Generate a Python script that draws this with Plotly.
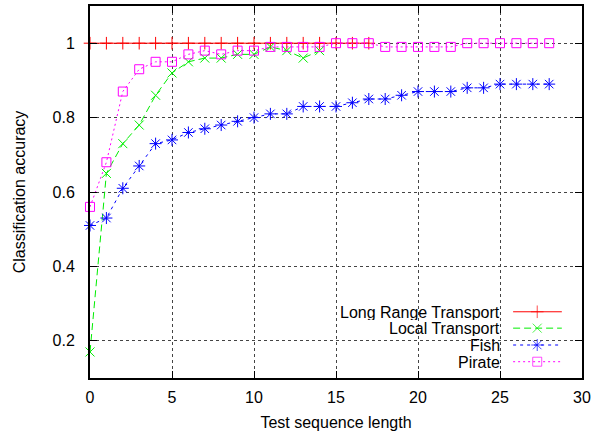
import plotly.graph_objects as go

# ---- data ----
x_long = [0, 1, 2, 3, 4, 5, 6, 7, 8, 9, 10, 11, 12, 13, 14, 15, 16, 17]
y_long = [1.0, 1.0, 1.0, 1.0, 1.0, 1.0, 1.0, 1.0, 1.0, 1.0, 1.0, 1.0, 1.0, 1.0, 1.0, 1.0, 1.0, 1.0]

x_local = [0, 1, 2, 3, 4, 5, 6, 7, 8, 9, 10, 11, 12, 13, 14]
y_local = [0.17, 0.65, 0.73, 0.78, 0.86, 0.92, 0.95, 0.96, 0.96, 0.97, 0.97, 0.99, 0.98, 0.96, 0.98]

x_fish = [0, 1, 2, 3, 4, 5, 6, 7, 8, 9, 10, 11, 12, 13, 14, 15, 16, 17, 18, 19, 20,
          21, 22, 23, 24, 25, 26, 27, 28]
y_fish = [0.51, 0.53, 0.61, 0.67, 0.73, 0.74, 0.76, 0.77, 0.78, 0.79, 0.80, 0.81, 0.81,
          0.83, 0.83, 0.83, 0.84, 0.85, 0.85, 0.86, 0.87, 0.87, 0.87, 0.88, 0.88, 0.89,
          0.89, 0.89, 0.89]

x_pirate = [0, 1, 2, 3, 4, 5, 6, 7, 8, 9, 10, 11, 12, 13, 14, 15, 16, 17, 18, 19, 20,
            21, 22, 23, 24, 25, 26, 27, 28]
y_pirate = [0.56, 0.68, 0.87, 0.93, 0.95, 0.95, 0.97, 0.98, 0.97, 0.98, 0.98, 0.99, 0.99,
            0.99, 0.99, 1.0, 1.0, 1.0, 0.99, 0.99, 0.99, 0.99, 0.99, 1.0, 1.0, 1.0, 1.0,
            1.0, 1.0]

series_names = ["Long Range Transport", "Local Transport", "Fish", "Pirate"]
x_ticks = [0, 5, 10, 15, 20, 25, 30]
y_ticks = [0.2, 0.4, 0.6, 0.8, 1.0]
y_tick_labels = ["0.2", "0.4", "0.6", "0.8", "1"]

# ---- styles ----
FONT = "Liberation Sans, Arial, sans-serif"
FS = 16
styles = [
    dict(color="#ff0000", dash="solid", symbol="cross-thin-open", size=9),
    dict(color="#00ee00", dash="7px,4px", symbol="x-thin-open", size=9),
    dict(color="#0000ff", dash="3px,4px", symbol="asterisk-open", size=10),
    dict(color="#ff00ff", dash="2px,3px", symbol="square-open", size=9),
]
series = [(x_long, y_long), (x_local, y_local), (x_fish, y_fish), (x_pirate, y_pirate)]

fig = go.Figure()
for (xs, ys), name, st in zip(series, series_names, styles):
    fig.add_trace(go.Scatter(
        x=xs, y=ys, name=name, mode="lines+markers", cliponaxis=False,
        line=dict(color=st["color"], width=1, dash=st["dash"]),
        marker=dict(symbol=st["symbol"], size=st["size"],
                    line=dict(color=st["color"], width=1), color=st["color"]),
        showlegend=False,
    ))

# ---- custom legend (gnuplot style: text left of the sample) ----
leg_rows = [0.178, 0.134, 0.0887, 0.0438]
leg_text_x = 0.835
leg_line_x = [0.860, 0.909, 0.959]
annotations = []
for name, st, ry in zip(series_names, styles, leg_rows):
    fig.add_trace(go.Scatter(
        x=leg_line_x, y=[ry, ry, ry], xaxis="x2", yaxis="y2", mode="lines+markers",
        line=dict(color=st["color"], width=1, dash=st["dash"]),
        marker=dict(symbol=st["symbol"], size=[0, st["size"], 0],
                    line=dict(color=st["color"], width=1), color=st["color"]),
        showlegend=False, hoverinfo="skip", cliponaxis=False,
    ))
    annotations.append(dict(
        x=leg_text_x, y=ry, xref="paper", yref="paper", text=name, showarrow=False,
        xanchor="right", yanchor="middle", height=16, borderpad=0,
        font=dict(family=FONT, size=FS, color="black"),
    ))

axis_common = dict(
    showline=True, linecolor="black", linewidth=2, mirror="allticks",
    ticks="inside", ticklen=7, tickcolor="black", tickwidth=1,
    showgrid=True, gridcolor="#444444", griddash="dot", gridwidth=1,
    zeroline=False, automargin=False,
    tickfont=dict(family=FONT, size=FS, color="black"),
)

fig.update_layout(
    width=602, height=431,
    margin=dict(l=90, r=20, t=6, b=53),
    paper_bgcolor="white", plot_bgcolor="white",
    font=dict(family=FONT, size=FS, color="black"),
    xaxis=dict(range=[0, 30], tickvals=x_ticks, ticklabelstandoff=4,
               title=dict(text="Test sequence length", standoff=12,
                          font=dict(family=FONT, size=FS)),
               **axis_common),
    yaxis=dict(range=[0.1, 1.1], tickvals=y_ticks, ticktext=y_tick_labels,
               ticklabelstandoff=10,
               title=dict(text="Classification accuracy", standoff=23,
                          font=dict(family=FONT, size=FS)),
               **axis_common),
    xaxis2=dict(range=[0, 1], overlaying="x", visible=False, fixedrange=True),
    yaxis2=dict(range=[0, 1], overlaying="y", visible=False, fixedrange=True),
    shapes=[dict(type="rect", xref="paper", yref="paper", x0=0.427, x1=1.0, y0=0.0, y1=0.2,
                 fillcolor="white", line=dict(width=0), layer="between")],
    annotations=annotations,
    showlegend=False,
)

fig.write_html("out.html", config={"displayModeBar": False},
               post_script="document.body.style.margin='0';document.body.style.overflow='hidden';")
